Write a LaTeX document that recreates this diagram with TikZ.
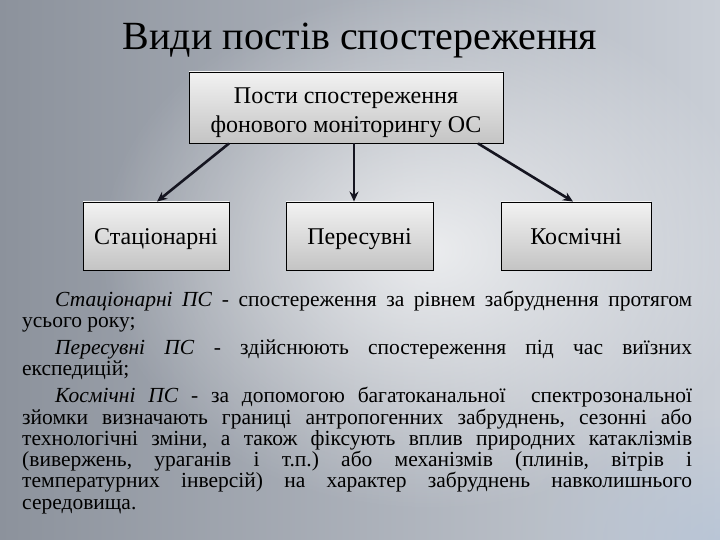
\documentclass[tikz,border=0pt]{standalone}
\usepackage{fontspec}
\setmainfont{Liberation Serif}
\usetikzlibrary{arrows.meta,fadings}
\tikzfading[name=glow, inner color=transparent!0, outer color=transparent!100]
\definecolor{bgleft}{HTML}{8C929C}
\definecolor{bgright}{HTML}{C9CED6}
\definecolor{bgblue}{HTML}{AFC0D6}
\definecolor{boxtop}{HTML}{F2F2F2}
\definecolor{boxbot}{HTML}{C4C4C4}
\definecolor{arrowc}{HTML}{151520}
\begin{document}
\begin{tikzpicture}[x=1pt,y=-1pt,
  box/.style={draw=black, line width=0.9pt, top color=boxtop, bottom color=boxbot, inner sep=0pt, align=center},
  lowbox/.style={box, minimum height=68pt, font=\fontsize{24}{24}\selectfont, text height=17pt, text depth=0pt},
  arr/.style={-{Stealth[length=10pt,width=9pt]}, line width=2.6pt, draw=arrowc}]
\useasboundingbox (0,0) rectangle (720,540);
% background
\shade[left color=bgleft, right color=bgright] (0,0) rectangle (720,540);
\fill[white, path fading=glow, fill opacity=0.75] (430,250) ellipse (330 and 260);
\fill[bgblue, path fading=glow, fill opacity=0.6] (720,540) ellipse (200 and 130);
% title
\node[font=\fontsize{40}{40}\selectfont, anchor=base] (title) at (360,50) {Види постів спостереження};
% boxes
\node[box, minimum width=314pt, minimum height=71pt] (top) at (346,107.5) {};
\node[font=\fontsize{24}{29}\selectfont, align=center, anchor=base] (toptext) at (346,133) {Пости спостереження\\фонового моніторингу ОС};
\node[lowbox, minimum width=146pt] (st) at (156,236) {Стаціонарні};
\node[lowbox, minimum width=147pt] (pe) at (359.5,236) {Пересувні};
\node[lowbox, minimum width=150pt] (ko) at (576,236) {Космічні};
% arrows
\draw[arr] ([xshift=-117pt]top.south) -- ([xshift=1pt]st.north);
\draw[arr] ([xshift=8pt]top.south) -- ([xshift=-5.5pt]pe.north);
\draw[arr] ([xshift=132pt]top.south) -- ([xshift=-3pt]ko.north);
% text
\node[anchor=north west, inner sep=0pt, text width=670pt, align=justify,
      font=\fontsize{21.5}{21.3}\selectfont] (para) at (22,291) {\frenchspacing
\hspace*{33pt}\textit{Стаціонарні ПС} - спостереження за рівнем забруднення протягом\linebreak
усього року;\par\vspace{5.5pt}
\hspace*{33pt}\textit{Пересувні ПС} - здійснюють спостереження під час виїзних\linebreak
експедицій;\par\vspace{5.5pt}
\hspace*{33pt}\textit{Космічні ПС} - за допомогою багатоканальної\ \ спектрозональної\linebreak
зйомки визначають границі антропогенних забруднень, сезонні або\linebreak
технологічні зміни, а також фіксують вплив природних катаклізмів\linebreak
(вивержень, ураганів і т.п.) або механізмів (плинів, вітрів і\linebreak
температурних інверсій) на характер забруднень навколишнього\linebreak
середовища.};
\end{tikzpicture}
\end{document}
